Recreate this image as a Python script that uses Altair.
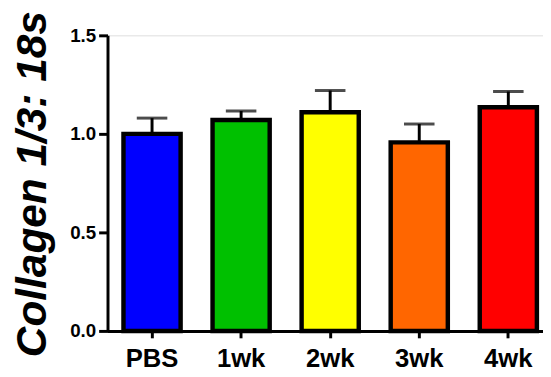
import altair as alt
import pandas as pd

groups = ["PBS", "1wk", "2wk", "3wk", "4wk"]
means = [1.00, 1.07, 1.11, 0.957, 1.135]
upper = [1.08, 1.116, 1.22, 1.05, 1.215]
colors = ["#0000FF", "#00C000", "#FFFF00", "#FF6600", "#FF0000"]

df = pd.DataFrame({"group": groups, "mean": means, "upper": upper})

FONT = "Liberation Sans, Arial, sans-serif"

xaxis = alt.Axis(title=None, labelAngle=0, labelFont=FONT, labelFontSize=26,
                 labelFontWeight="bold", labelColor="black", labelPadding=8,
                 tickSize=7, tickWidth=3, tickColor="black",
                 domainColor="black", domainWidth=3, grid=False)

x = alt.X("group:N", sort=groups,
          scale=alt.Scale(domain=groups, range=[0, 452], paddingInner=0, paddingOuter=0),
          axis=xaxis)

yscale = alt.Scale(domain=[0, 1.5], nice=False, zero=True)
yaxis = alt.Axis(title="Collagen 1/3: 18s", values=[0, 0.5, 1.0, 1.5], format=".1f", grid=False,
                 labelFont=FONT, labelFontSize=19, labelFontWeight="bold", labelColor="black",
                 labelPadding=3, tickSize=9, tickWidth=3, tickColor="black",
                 domainColor="black", domainWidth=3,
                 titleFont=FONT, titleFontSize=43, titleFontWeight="bold",
                 titleFontStyle="italic", titleColor="black",
                 titleAngle=270, titleX=-63, titleY=150.5,
                 titleAlign="center", titleBaseline="alphabetic")

y = alt.Y("mean:Q", scale=yscale, axis=yaxis)

base = alt.Chart(df)

stems = base.mark_rule(color="black", strokeWidth=3).encode(
    x=x, y=y, y2="upper:Q")

caps = base.mark_tick(color="black", thickness=3, size=31, orient="horizontal").encode(
    x=x, y=alt.Y("upper:Q", scale=yscale, axis=yaxis))

bars = base.mark_bar(size=58, stroke="black", strokeWidth=4.5).encode(
    x=x, y=y,
    color=alt.Color("group:N", scale=alt.Scale(domain=groups, range=colors), legend=None))

chart = alt.layer(stems, caps, bars).properties(
    width=442, height=300,
    autosize=alt.AutoSizeParams(type="none"),
    padding={"left": 101, "top": 25, "right": 0, "bottom": 43},
).configure_view(stroke=None).configure(background="white")

chart.save("out.html", embed_options={"renderer": "svg", "actions": False})
